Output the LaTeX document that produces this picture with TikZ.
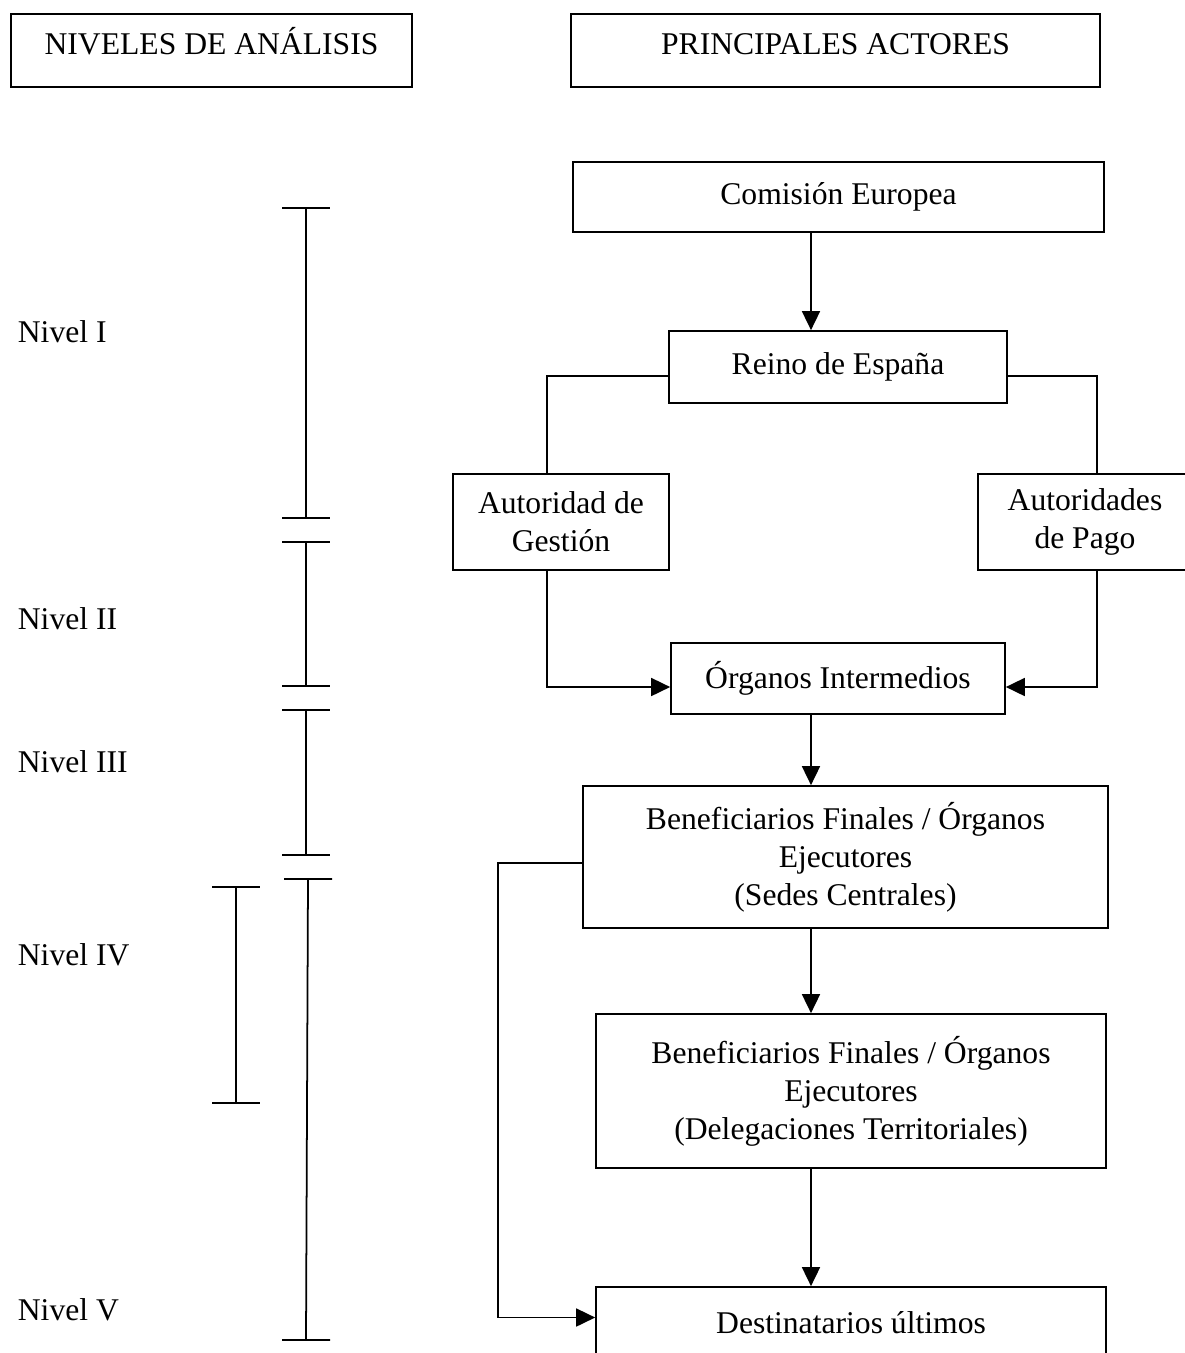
\documentclass[tikz,border=0pt]{standalone}
\usepackage{fontspec}
\setmainfont{Liberation Serif}
\usetikzlibrary{arrows.meta}

\tikzset{
  box/.style={draw, line width=1pt, inner sep=0pt, align=center},
  hdr/.style={box, text height=0.5cm, text depth=0.36cm},
  arr/.style={line width=1pt, -{Triangle[length=0.38cm, width=0.36cm]}},
  lvl/.style={anchor=west, inner sep=0pt}
}

\begin{document}
\begin{tikzpicture}[x=0.02cm, y=-0.02cm, line width=1pt,
    font=\fontsize{18}{21.6}\selectfont]
  \useasboundingbox (0,0) rectangle (1185,1353);
  \clip (0,0) rectangle (1185,1353);

  % headers
  \node[hdr, minimum width=8.02cm, minimum height=1.46cm] (niveles) at (211.5,50.5) {NIVELES DE ANÁLISIS};
  \node[hdr, minimum width=10.58cm, minimum height=1.46cm] (actores) at (835.5,50.5) {PRINCIPALES ACTORES};

  % levels
  \node[lvl] (nivI) at (17,332) {Nivel I};
  \node[lvl] (nivII) at (17,619) {Nivel II};
  \node[lvl] (nivIII) at (17,762) {Nivel III};
  \node[lvl] (nivIV) at (17,955) {Nivel IV};
  \node[lvl] (nivV) at (17,1310) {Nivel V};
  \foreach \x/\ya/\yb in {306/208/518, 306/542/686, 306/710/855, 236/887/1103}
    \draw (\x-24,\ya) -- (\x+24,\ya) (\x,\ya) -- (\x,\yb) (\x-24,\yb) -- (\x+24,\yb);
  \draw (284,879) -- (332,879) (308,879) -- (306,1340) (282,1340) -- (330,1340);

  % actors
  \node[box, minimum width=10.62cm, minimum height=1.4cm] (comision) at (838.5,197) {Comisión Europea};
  \node[box, minimum width=6.76cm, minimum height=1.44cm] (reino) at (838,367) {Reino de España};
  \node[box, minimum width=4.32cm, minimum height=1.92cm] (gestion) at (561,522) {Autoridad de\\Gestión};
  \node[box, minimum width=4.28cm, minimum height=1.92cm] (pago) at (1085,522) {Autoridades\\de Pago};
  \node[box, minimum width=6.68cm, minimum height=1.42cm] (organos) at (838,678.5) {Órganos Intermedios};
  \node[box, minimum width=10.5cm, minimum height=2.84cm] (sedes) at (845.5,857)
    {Beneficiarios Finales / Órganos\\Ejecutores\\(Sedes Centrales)};
  \node[box, minimum width=10.2cm, minimum height=3.08cm] (delegaciones) at (851,1091)
    {Beneficiarios Finales / Órganos\\Ejecutores\\(Delegaciones Territoriales)};
  \node[box, minimum width=10.2cm, minimum height=1.42cm] (destinatarios) at (851,1322.5) {Destinatarios últimos};

  % connectors
  \coordinate (mid) at (811,0);
  \coordinate (lcol) at (547,0);
  \coordinate (rcol) at (1097,0);
  \coordinate (side) at (0,376);
  \coordinate (join) at (0,687);
  \coordinate (bypass) at (498,863);
  \draw[arr] (comision.south -| mid) -- (reino.north -| mid);
  \draw (reino.west |- side) -| (gestion.north -| lcol);
  \draw (reino.east |- side) -| (pago.north -| rcol);
  \draw[arr] (gestion.south -| lcol) |- (organos.west |- join);
  \draw[arr] (pago.south -| rcol) |- (organos.east |- join);
  \draw[arr] (organos.south -| mid) -- (sedes.north -| mid);
  \draw[arr] (sedes.south -| mid) -- (delegaciones.north -| mid);
  \draw[arr] (delegaciones.south -| mid) -- (destinatarios.north -| mid);
  \draw[arr] (sedes.west |- bypass) -- (bypass) |- ([yshift=0.1cm]destinatarios.west);
\end{tikzpicture}
\end{document}
